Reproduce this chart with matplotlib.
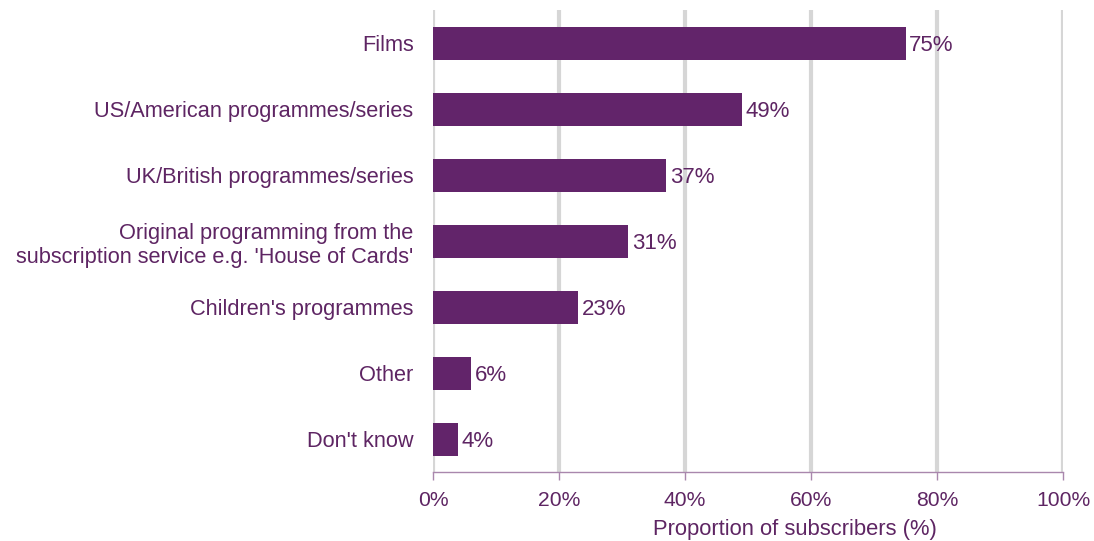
import matplotlib.pyplot as plt
import numpy as np

plt.rcParams['font.family'] = ['Liberation Sans', 'DejaVu Sans']

# Data
categories = ["Films", "US/American programmes/series", "UK/British programmes/series",
              "Original programming from the\nsubscription service e.g. 'House of Cards'",
              "Children's programmes", "Other", "Don't know"]
values = [75, 49, 37, 31, 23, 6, 4]
ticks = [0, 20, 40, 60, 80, 100]

purple = '#62246A'
text_col = '#5E2563'

fig = plt.figure(figsize=(10.94, 5.41), dpi=100)
ax = fig.add_axes([433 / 1094, 1 - 472 / 541, 630 / 1094, 462 / 541])

y = np.arange(len(categories))
ax.barh(y, values, height=0.5, color=purple, zorder=3)
for yi, v in zip(y, values):
    ax.text(v + 0.6, yi + 0.045, f"{v}%", va='center', ha='left', fontsize=16, color=text_col)

ax.set_ylim(len(categories) - 0.5, -0.5)
ax.set_xlim(0, 100)
ax.set_yticks(y)
ax.set_yticklabels(categories, fontsize=15.7, color=text_col, ha='right')
ax.tick_params(axis='y', length=0, pad=14)
ax.set_xticks(ticks)
ax.set_xticklabels([f"{t}%" for t in ticks], fontsize=15.2, color=text_col)
ax.tick_params(axis='x', length=6, width=1, color='#A987AD', pad=8)

ax.xaxis.grid(True, color='#D6D6D6', linewidth=3, zorder=0)
for s in ['top', 'right', 'left']:
    ax.spines[s].set_visible(False)
ax.spines['bottom'].set_color('#A987AD')
ax.spines['bottom'].set_linewidth(1)

fig.text(795 / 1094, 1 - 530 / 541, "Proportion of subscribers (%)", ha='center', va='center',
         fontsize=15.8, color=text_col)

fig.savefig('out.png', dpi=100)
